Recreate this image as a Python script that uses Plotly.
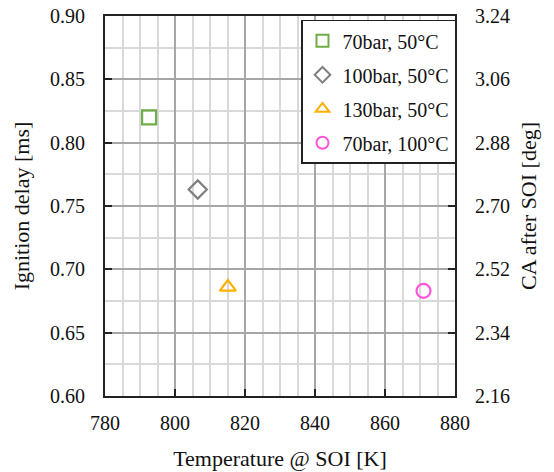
import plotly.graph_objects as go

# Ignition delay vs. temperature at start of injection
series_names = ["70bar, 50°C", "100bar, 50°C", "130bar, 50°C", "70bar, 100°C"]
temperature_K = [792.6, 806.5, 815.1, 871.0]
ignition_delay_ms = [0.820, 0.763, 0.686, 0.683]
symbols = ["square-open", "diamond-open", "triangle-up-open", "circle-open"]
colors = ["#70AD47", "#7F7F7F", "#FFB000", "#FF55DD"]

x_ticks = [780, 800, 820, 840, 860, 880]
y_ticks = [0.60, 0.65, 0.70, 0.75, 0.80, 0.85, 0.90]
ca_ticks = [2.16, 2.34, 2.52, 2.70, 2.88, 3.06, 3.24]

FONT = "Liberation Serif"
tick_font = dict(family=FONT, size=20, color="#111111")
title_font = dict(family=FONT, size=22, color="#111111")

fig = go.Figure()
for name, x, y, sym, col in zip(series_names, temperature_K, ignition_delay_ms, symbols, colors):
    fig.add_trace(go.Scatter(
        x=[x], y=[y], mode="markers", name=name, legendgroup=name,
        marker=dict(symbol=sym, size=14, color=col, line=dict(color=col, width=2.2)),
    ))

# invisible trace to activate the secondary (crank-angle) axis
fig.add_trace(go.Scatter(x=[None], y=[None], yaxis="y2", showlegend=False, hoverinfo="skip"))

axis_common = dict(
    showline=True, linecolor="#222222", linewidth=2,
    ticks="inside", ticklen=7, tickwidth=2, tickcolor="#222222",
    tickfont=tick_font, zeroline=False, automargin=False,
)

fig.update_layout(
    width=554, height=472,
    margin=dict(l=105, r=99, t=16, b=76),
    paper_bgcolor="white", plot_bgcolor="white",
    font=tick_font,
    showlegend=True,
    legend=dict(
        x=0.56, y=0.99, xanchor="left", yanchor="top",
        bgcolor="white", bordercolor="#222222", borderwidth=1.5,
        font=dict(family=FONT, size=20, color="#111111"),
        tracegroupgap=5, itemsizing="constant",
    ),
    xaxis=dict(
        range=[780, 880], tickvals=x_ticks, ticktext=[str(v) for v in x_ticks],
        showgrid=True, gridcolor="#A6A6A6", gridwidth=1.5,
        minor=dict(dtick=5, showgrid=True, gridcolor="#D9D9D9", gridwidth=1.5, ticks=""),
        mirror=True, ticklabelstandoff=8,
        title=dict(text="Temperature @ SOI [K]", font=title_font, standoff=18),
        **axis_common,
    ),
    yaxis=dict(
        range=[0.60, 0.90], tickvals=y_ticks, ticktext=[f"{v:.2f}" for v in y_ticks],
        showgrid=True, gridcolor="#A6A6A6", gridwidth=1.5,
        minor=dict(dtick=0.025, showgrid=True, gridcolor="#D9D9D9", gridwidth=1.5, ticks=""),
        ticklabelstandoff=14,
        title=dict(text="Ignition delay [ms]", font=title_font, standoff=14),
        **axis_common,
    ),
    yaxis2=dict(
        range=[2.16, 3.24], tickvals=ca_ticks, ticktext=[f"{v:.2f}" for v in ca_ticks],
        overlaying="y", side="right", showgrid=False,
        ticklabelstandoff=14,
        title=dict(text="CA after SOI [deg]", font=title_font, standoff=12),
        **axis_common,
    ),
)

fig.write_html("out.html")
